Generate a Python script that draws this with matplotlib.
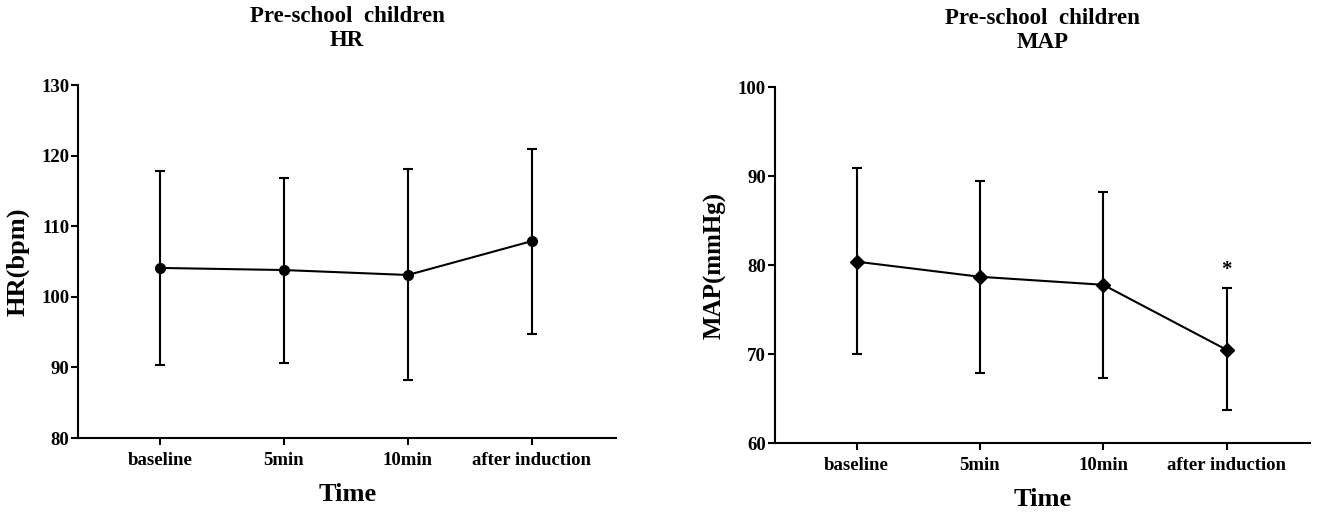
import matplotlib
matplotlib.use("Agg")
import matplotlib.pyplot as plt
import numpy as np

plt.rcParams["font.family"] = ["Liberation Serif", "DejaVu Serif"]
plt.rcParams["font.weight"] = "bold"

TIMES = ["baseline", "5min", "10min", "after induction"]

HR_MEAN = [104.1, 103.8, 103.1, 107.9]
HR_UPPER = [117.9, 116.9, 118.1, 120.9]
HR_LOWER = [90.4, 90.7, 88.2, 94.8]

MAP_MEAN = [80.4, 78.7, 77.8, 70.5]
MAP_UPPER = [90.9, 89.5, 88.2, 77.4]
MAP_LOWER = [70.0, 67.9, 67.3, 63.7]
MAP_SIG = ["", "", "", "*"]


def panel(ax, mean, upper, lower, marker, ms, ylim, ystep, ylabel, ylsize, title):
    x = np.arange(len(TIMES))
    mean = np.asarray(mean)
    err = [mean - np.asarray(lower), np.asarray(upper) - mean]
    ax.errorbar(x, mean, yerr=err, color="black", marker=marker, ms=ms,
                lw=1.5, elinewidth=1.5, capsize=3.5, capthick=1.5)
    ax.set_xlim(-0.66, 3.68)
    ax.set_ylim(*ylim)
    ax.set_yticks(np.arange(ylim[0], ylim[1] + 1, ystep))
    ax.set_xticks(x)
    ax.set_xticklabels(TIMES)
    for s in ("top", "right"):
        ax.spines[s].set_visible(False)
    for s in ("left", "bottom"):
        ax.spines[s].set_linewidth(1.5)
    ax.tick_params(width=1.5, length=5, labelsize=13.5)
    ax.tick_params(axis="x", pad=5)
    ax.tick_params(axis="y", pad=1.5)
    ax.set_xlabel("Time", fontsize=19, fontweight="bold", labelpad=10)
    ax.set_ylabel(ylabel, fontsize=ylsize, fontweight="bold", labelpad=8)
    ax.set_title(title, fontsize=16.5, fontweight="bold", pad=28)


fig = plt.figure(figsize=(13.25, 5.19), dpi=100)
ax1 = fig.add_axes([0.059, 0.156, 0.406, 0.680])
ax2 = fig.add_axes([0.585, 0.146, 0.404, 0.686])

panel(ax1, HR_MEAN, HR_UPPER, HR_LOWER, "o", 7, (80, 130), 10, "HR(bpm)", 19,
      "Pre-school  children\nHR")
panel(ax2, MAP_MEAN, MAP_UPPER, MAP_LOWER, "D", 7, (60, 100), 10, "MAP(mmHg)", 18,
      "Pre-school  children\nMAP")

for i, s in enumerate(MAP_SIG):
    if s:
        ax2.annotate(s, (i, MAP_UPPER[i]), xytext=(0, 6), textcoords="offset points",
                     ha="center", va="bottom", fontsize=15, fontweight="bold")

fig.savefig("out.png", dpi=100)
